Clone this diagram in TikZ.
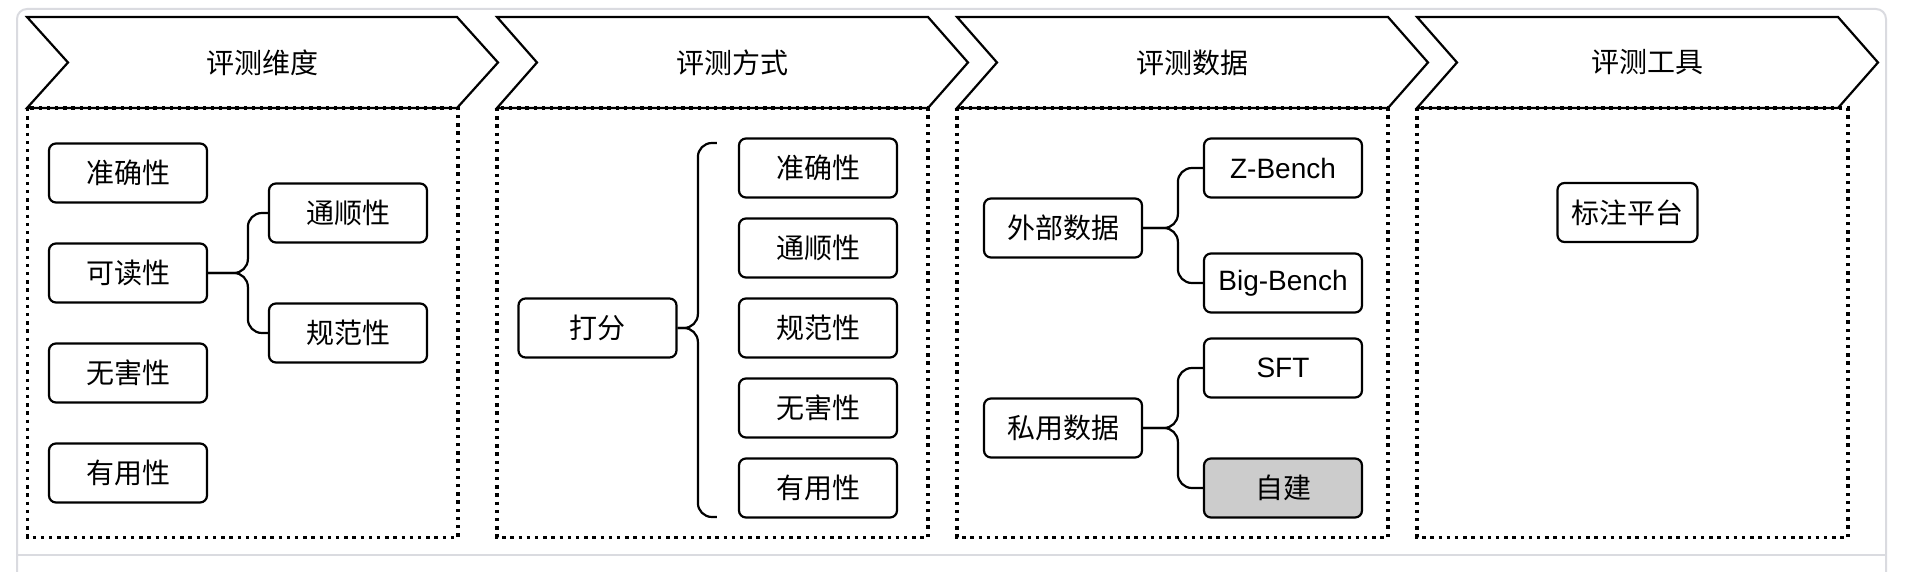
\documentclass[tikz,border=0pt]{standalone}
\usepackage{fontspec}
\setmainfont{Noto Sans CJK SC}
\newfontfamily\latinfont{Liberation Sans}
\usetikzlibrary{calc}

\definecolor{framegray}{RGB}{218,219,224}
\definecolor{boxgray}{RGB}{204,204,204}

\tikzset{
  blk/.style={draw, rounded corners=3.5pt, line width=1.1pt, minimum width=79pt, minimum height=29.5pt, inner sep=0pt, font=\fontsize{14}{16}\selectfont},
  head/.style={inner sep=0pt, font=\fontsize{14}{16}\selectfont},
  link/.style={line width=1.1pt, rounded corners=7pt},
  dotbox/.style={line width=1.8pt, dash pattern=on 1.7pt off 2.4pt}
}

\begin{document}
\begin{tikzpicture}[x=0.5pt,y=0.5pt,yscale=-1,xscale=1]
\path[use as bounding box] (0,0) rectangle (1908,572);

%Shape: outer frame
\draw [color=framegray, line width=1pt, rounded corners=5pt] (17,572) -- (17,9) -- (1886,9) -- (1886,572) ;
%Straight Lines: separator
\draw [color=framegray, line width=1pt] (17,555) -- (1886,555) ;

%Shape: Chevron 1
\draw [line width=1.1pt, fill=white] (27,17) -- (457,17) -- (498,62.5) -- (457,108) -- (27,108) -- (68,62.5) -- cycle ;
%Shape: Chevron 2
\draw [line width=1.1pt, fill=white] (497,17) -- (928,17) -- (968,62.5) -- (928,108) -- (497,108) -- (537,62.5) -- cycle ;
%Shape: Chevron 3
\draw [line width=1.1pt, fill=white] (957,17) -- (1388,17) -- (1428,62.5) -- (1388,108) -- (957,108) -- (997,62.5) -- cycle ;
%Shape: Chevron 4
\draw [line width=1.1pt, fill=white] (1417,17) -- (1838,17) -- (1878,62.5) -- (1838,108) -- (1417,108) -- (1457,62.5) -- cycle ;

%Shape: Dotted Rectangles
\draw [dotbox] (27.5,108) rectangle (458,537.5) ;
\draw [dotbox] (497,108) rectangle (928,537.5) ;
\draw [dotbox] (957,108) rectangle (1388,537.5) ;
\draw [dotbox] (1417,108) rectangle (1848,537.5) ;

% Text Node
\node [head] (h1) at (262,62.5) {评测维度};
% Text Node
\node [head] (h2) at (732.5,62.5) {评测方式};
% Text Node
\node [head] (h3) at (1192.5,62.5) {评测数据};
% Text Node
\node [head] (h4) at (1647.5,62.5) {评测工具};

% Column 1
\node [blk] (zq1) at (128,173) {准确性};
\node [blk] (kd1) at (128,273) {可读性};
\node [blk] (wh1) at (128,373) {无害性};
\node [blk] (yy1) at (128,473) {有用性};
\node [blk] (ts1) at (348,213) {通顺性};
\node [blk] (gf1) at (348,333) {规范性};
\draw [link] (kd1.east) -| ($(ts1.west)+(-20,0)$) -- (ts1.west) ;
\draw [link] (kd1.east) -| ($(gf1.west)+(-20,0)$) -- (gf1.west) ;

% Column 2
\node [blk] (df2) at (597.5,328) {打分};
\node [blk] (zq2) at (818,168) {准确性};
\node [blk] (ts2) at (818,248) {通顺性};
\node [blk] (gf2) at (818,328) {规范性};
\node [blk] (wh2) at (818,408) {无害性};
\node [blk] (yy2) at (818,488) {有用性};
\draw [link] (df2.east) -| ($(zq2.west)+(-40,-25)$) -- ($(zq2.west)+(-21,-25)$) ;
\draw [link] (df2.east) -| ($(yy2.west)+(-40,29)$) -- ($(yy2.west)+(-21,29)$) ;

% Column 3
\node [blk] (wb3) at (1063,228) {外部数据};
\node [blk] (sy3) at (1063,428) {私用数据};
\node [blk, font=\latinfont\fontsize{14}{16}\selectfont] (zb3) at (1283,168) {Z-Bench};
\node [blk, font=\latinfont\fontsize{14}{16}\selectfont] (bb3) at (1283,283) {Big-Bench};
\node [blk, font=\latinfont\fontsize{14}{16}\selectfont] (sft3) at (1283,368) {SFT};
\node [blk, fill=boxgray] (zj3) at (1283,488) {自建};
\draw [link] (wb3.east) -| ($(zb3.west)+(-25,0)$) -- (zb3.west) ;
\draw [link] (wb3.east) -| ($(bb3.west)+(-25,0)$) -- (bb3.west) ;
\draw [link] (sy3.east) -| ($(sft3.west)+(-25,0)$) -- (sft3.west) ;
\draw [link] (sy3.east) -| ($(zj3.west)+(-25,0)$) -- (zj3.west) ;

% Column 4
\node [blk, minimum width=70pt] (bz4) at (1627.5,212.5) {标注平台};

\end{tikzpicture}
\end{document}
